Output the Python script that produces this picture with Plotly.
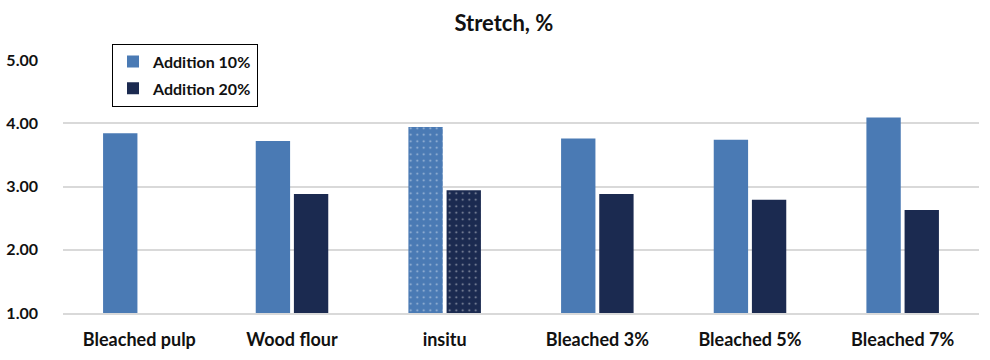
import plotly.graph_objects as go

categories = ["Bleached pulp", "Wood flour", "insitu", "Bleached 3%", "Bleached 5%", "Bleached 7%"]
add10 = [3.84, 3.72, 3.94, 3.76, 3.74, 4.09]
add20 = [None, 2.88, 2.94, 2.88, 2.79, 2.63]
patterns = ["", "", ".", "", "", ""]
y_ticks = [1, 2, 3, 4, 5]
y_tick_labels = ["1.00", "2.00", "3.00", "4.00", "5.00"]

C10 = "#4a7ab4"
C20 = "#1b2a50"
FONT = "Lato"
TXT = "#111111"

fig = go.Figure()
fig.add_trace(go.Bar(
    x=categories, y=[v - 1 if v is not None else None for v in add10], base=1,
    name="<b>Addition 10%</b>", legendgroup="a",
    marker=dict(color=C10, line=dict(width=0),
                pattern=dict(shape=patterns, fgcolor="white", size=6.5, solidity=0.07)),
))
fig.add_trace(go.Bar(
    x=categories, y=[v - 1 if v is not None else None for v in add20], base=1,
    name="<b>Addition 20%</b>", legendgroup="b",
    marker=dict(color=C20, line=dict(width=0),
                pattern=dict(shape=patterns, fgcolor="white", size=6.5, solidity=0.07)),
))

fig.update_layout(
    width=990, height=360,
    margin=dict(l=63, r=11, t=60, b=47, autoexpand=False),
    paper_bgcolor="white", plot_bgcolor="white",
    barmode="group", bargap=0.5, bargroupgap=0.1,
    font=dict(family=FONT, size=15, color=TXT),
    title=dict(text="<b>Stretch, %</b>", x=0.509, xanchor="center", y=0.936, yanchor="middle",
               font=dict(family=FONT, size=22, color=TXT)),
    legend=dict(x=0.0535, y=1.065, xanchor="left", yanchor="top",
                bordercolor="black", borderwidth=1, bgcolor="white",
                font=dict(family=FONT, size=16, color=TXT),
                traceorder="grouped", tracegroupgap=3),
    showlegend=True,
)
fig.update_xaxes(
    tickfont=dict(family=FONT, size=18, color=TXT, weight="bold"),
    showline=True, linecolor="#d9d9d9", linewidth=1.5,
    ticks="", ticklabelstandoff=10, automargin=False,
)
fig.update_yaxes(
    range=[1, 5], tickvals=y_ticks, ticktext=y_tick_labels,
    tickfont=dict(family=FONT, size=16, color=TXT, weight="bold"),
    showgrid=True, gridcolor="#d9d9d9", gridwidth=1.5,
    zeroline=False, showline=False, ticks="", ticklabelstandoff=24, automargin=False,
)

fig.write_html("out.html", config={"displayModeBar": False},
               post_script="document.body.style.margin='0';")
